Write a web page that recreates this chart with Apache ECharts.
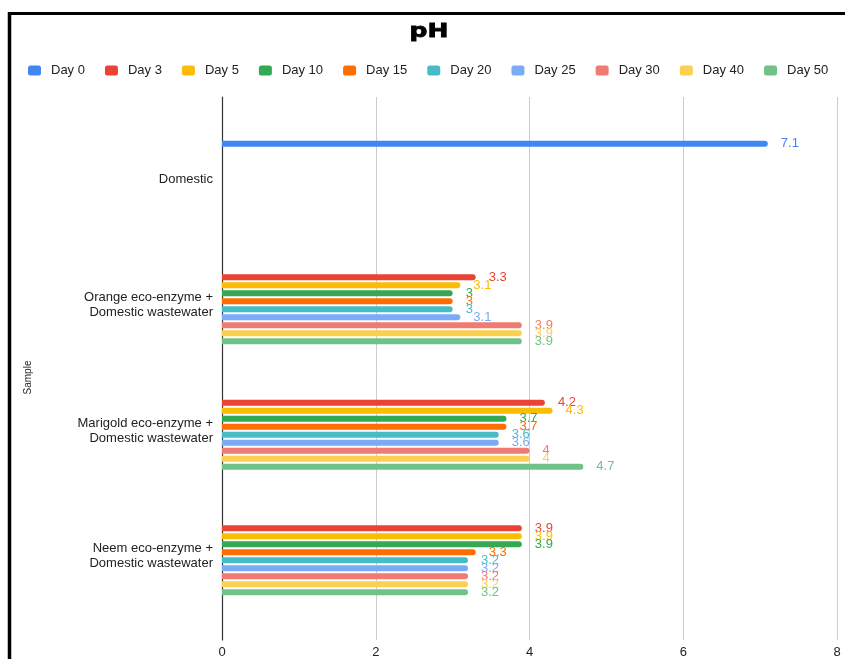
<!DOCTYPE html>
<html>
<head>
<meta charset="utf-8">
<script src="https://cdn.jsdelivr.net/npm/echarts@6/dist/echarts.min.js"></script>
<style>
html,body{margin:0;padding:0;background:#fff;}
#c{width:845px;height:659px;}
</style>
</head>
<body>
<div id="c"></div>
<script>
const titleText = 'pH';
const categories = [
  'Domestic',
  'Orange eco-enzyme +\nDomestic wastewater',
  'Marigold eco-enzyme +\nDomestic wastewater',
  'Neem eco-enzyme +\nDomestic wastewater'
];
const seriesNames = ['Day 0','Day 3','Day 5','Day 10','Day 15','Day 20','Day 25','Day 30','Day 40','Day 50'];
const day0  = [7.1, null, null, null];
const day3  = [null, 3.3, 4.2, 3.9];
const day5  = [null, 3.1, 4.3, 3.9];
const day10 = [null, 3, 3.7, 3.9];
const day15 = [null, 3, 3.7, 3.3];
const day20 = [null, 3, 3.6, 3.2];
const day25 = [null, 3.1, 3.6, 3.2];
const day30 = [null, 3.9, 4, 3.2];
const day40 = [null, 3.9, 4, 3.2];
const day50 = [null, 3.9, 4.7, 3.2];
const xTicks = [0, 2, 4, 6, 8];

const values = [day0, day3, day5, day10, day15, day20, day25, day30, day40, day50];
const colors = ['#4285F4','#EA4335','#FBBC04','#34A853','#FF6D01','#46BDC6','#7BAAF7','#F07B72','#FCD04F','#71C287'];
const FONT = 'Liberation Sans, Arial, sans-serif';

const chart = echarts.init(document.getElementById('c'), null, {renderer: 'canvas'});
const series = seriesNames.map((n, i) => ({
  name: n,
  type: 'bar',
  xAxisIndex: 0,
  yAxisIndex: 0,
  data: values[i],
  barWidth: 6,
  barGap: '33%',
  itemStyle: {color: colors[i], borderRadius: [0, 3, 3, 0]},
  label: {
    show: true,
    position: 'right',
    distance: 13,
    color: colors[i],
    fontSize: 13,
    fontFamily: FONT
  }
}));

chart.setOption({
  animation: false,
  color: colors,
  legend: {
    data: seriesNames,
    left: 28,
    top: 64,
    padding: 0,
    icon: 'roundRect',
    itemWidth: 13,
    itemHeight: 10,
    itemGap: 20,
    textStyle: {fontSize: 13, color: '#222', fontFamily: FONT, padding: [0, 0, 0, 5]}
  },
  graphic: [
    {type: 'line', shape: {x1: 8, y1: 13.5, x2: 845, y2: 13.5}, style: {stroke: '#000', lineWidth: 3}},
    {type: 'line', shape: {x1: 9.5, y1: 12, x2: 9.5, y2: 659}, style: {stroke: '#000', lineWidth: 3.5}},
    {type: 'text', x: 429, y: 32, scaleX: 1.25,
      style: {text: titleText, x: 0, y: 0, align: 'center', verticalAlign: 'middle',
        font: 'bold 20px "DejaVu Sans", sans-serif', fill: '#000', stroke: '#000', lineWidth: 0.8}}
  ],
  grid: [
    {left: 222, right: 8, top: 117, bottom: 40, containLabel: false},
    {left: 222, right: 8, top: 97, bottom: 19, containLabel: false}
  ],
  xAxis: [
    {
      type: 'value', gridIndex: 0, min: 0, max: 8, interval: 2,
      axisLine: {show: false}, axisTick: {show: false},
      axisLabel: {show: false}, splitLine: {show: false}
    },
    {
      type: 'value', gridIndex: 1, min: 0, max: 8, interval: 2,
      axisLine: {show: false}, axisTick: {show: false},
      axisLabel: {show: true, margin: 6, fontSize: 13, color: '#222', fontFamily: FONT,
        formatter: v => xTicks.indexOf(v) >= 0 ? String(v) : ''},
      splitLine: {show: true, lineStyle: {color: '#cccccc', width: 1}}
    }
  ],
  yAxis: [
    {
      type: 'category', gridIndex: 0, data: categories, inverse: true,
      axisLine: {show: false}, axisTick: {show: false},
      axisLabel: {margin: 9, fontSize: 13, color: '#222', fontFamily: FONT, lineHeight: 15, align: 'right'},
      splitLine: {show: false}
    },
    {
      type: 'value', gridIndex: 1, min: 0, max: 1,
      name: 'Sample', nameLocation: 'middle', nameGap: 189, nameRotate: 90,
      nameTextStyle: {fontSize: 10, color: '#222', fontFamily: FONT, padding: [0, 18, 0, 0]},
      axisLine: {show: true, lineStyle: {color: '#333', width: 1.2}},
      axisTick: {show: false}, axisLabel: {show: false}, splitLine: {show: false}
    }
  ],
  series: series
});
</script>
</body>
</html>
